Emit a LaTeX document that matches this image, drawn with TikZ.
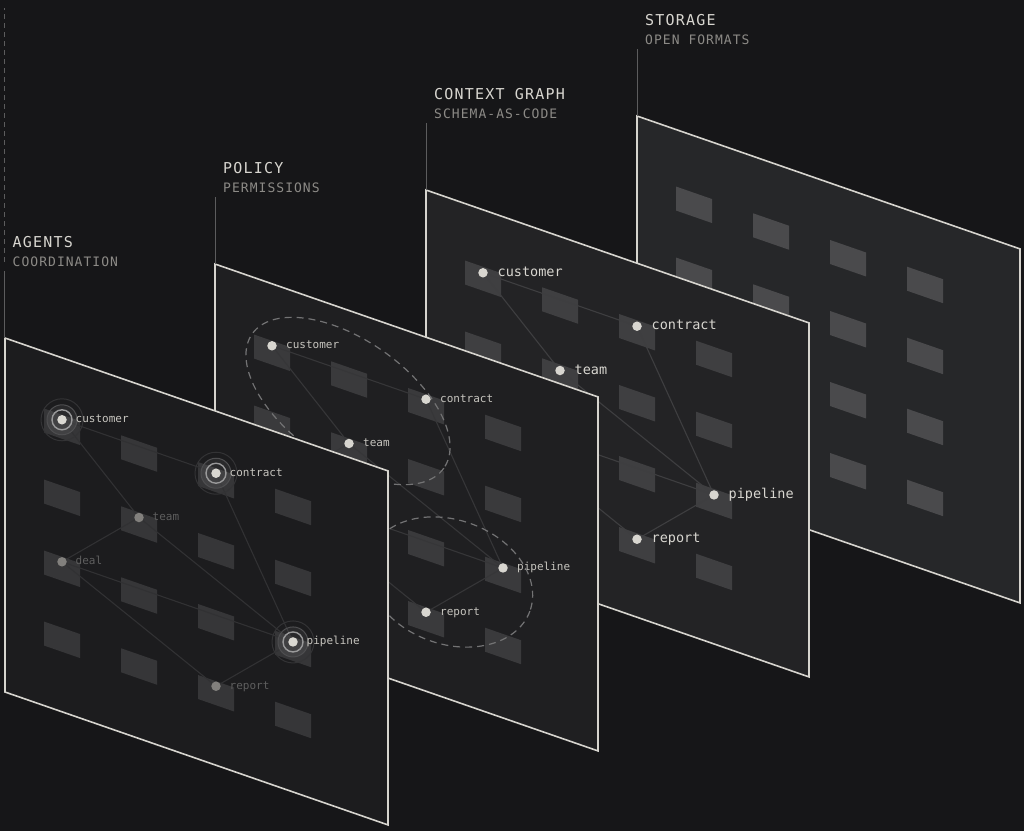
\documentclass[tikz,border=0pt]{standalone}
\usepackage{fontspec}
\setmonofont{DejaVu Sans Mono}
\usetikzlibrary{positioning}
\definecolor{backdrop}{HTML}{161618}
\definecolor{rim}{HTML}{D6D4CE}
\definecolor{sfill}{HTML}{262729}
\definecolor{cfill}{HTML}{232325}
\definecolor{pfill}{HTML}{1F1F21}
\definecolor{afill}{HTML}{1C1C1E}
\definecolor{stile}{HTML}{4A4A4C}
\definecolor{ctile}{HTML}{3F3F41}
\definecolor{ptile}{HTML}{3A3A3C}
\definecolor{atile}{HTML}{363638}
\definecolor{cwire}{HTML}{3E3E40}
\definecolor{pwire}{HTML}{363638}
\definecolor{awire}{HTML}{313133}
\definecolor{inkhi}{HTML}{D8D6D0}
\definecolor{inklo}{HTML}{8C8A86}
\definecolor{inkdim}{HTML}{5E5E5E}
\newcommand{\layerframe}[1]{\filldraw[frame,fill=#1] (0,0) -- (383,0) -- (383,354) -- (0,354) -- cycle;}
\newcommand{\tilegrid}[1]{\foreach \i in {0,...,3} \foreach \j in {0,...,3} {\fill[#1] ({39+77*\i},{57+71*\j}) -- ++(36,0) -- ++(0,24) -- ++(-36,0) -- cycle;}}
\newcommand{\graphedges}[2]{\foreach \src/\dst in {customer/contract,customer/team,contract/pipeline,team/deal,team/pipeline,deal/pipeline,deal/report,report/pipeline} {\draw[wire,draw=#2] (#1-\src) -- (#1-\dst);}}
\newcommand{\layertitle}[5]{\coordinate (#1-corner) at (#2,#3);
  \node[title] (#1-title) at ({#2+8},{#3-91}) {#4};
  \node[subtitle] (#1-sub) at ({#2+8},{#3-72}) {#5};
  \draw[tick] (#1-corner) -- ++(0,-67);}

\begin{document}
\begin{tikzpicture}[x=1pt,y=-1pt,
    frame/.style={draw=rim,line width=1.6pt,line join=miter},
    wire/.style={line width=1.1pt},
    dot/.style={circle,fill=inkhi,inner sep=0pt,minimum size=9.5pt},
    dimdot/.style={dot,fill=black!40!inkhi},
    lbl/.style={inner sep=0pt,text height=6pt,text depth=0pt,text=inkhi!92!black,
                font=\ttfamily\fontsize{11}{13}\selectfont},
    biglbl/.style={lbl,text height=7.4pt,text=inkhi,font=\ttfamily\fontsize{13.5}{15}\selectfont},
    dimlbl/.style={lbl,text=inkdim},
    title/.style={anchor=base west,inner sep=0pt,text=inkhi,
                  font=\ttfamily\fontsize{15}{17}\selectfont\addfontfeatures{LetterSpace=8}},
    subtitle/.style={anchor=base west,inner sep=0pt,text=inklo,
                  font=\ttfamily\fontsize{13}{15}\selectfont\addfontfeatures{LetterSpace=8}},
    tick/.style={draw=white!30!backdrop,line width=1pt},
    hull/.style={draw=white!40!backdrop,line width=1.2pt,dash pattern=on 7pt off 5pt},
    ring1/.style={draw=white!55!afill,line width=1.4pt},
    ring2/.style={draw=white!22!afill,line width=1pt,fill=white,fill opacity=0.06},
    ring3/.style={draw=white!10!afill,line width=1pt}
  ]
  \useasboundingbox (0,0) rectangle (1024,831);
  \fill[backdrop] (0,0) rectangle (1024,831);

  % storage
  \begin{scope}[cm={1,-0.347,0,1,(637pt,-116pt)}]
    \layerframe{sfill}
    \tilegrid{stile}
  \end{scope}
  \layertitle{s}{637}{116}{STORAGE}{OPEN FORMATS}

  % context graph
  \begin{scope}[cm={1,-0.347,0,1,(426pt,-190pt)}]
    \layerframe{cfill}
    \tilegrid{ctile}
    \node(c-customer)[dot] at (57,63){};
    \node(c-contract)[dot] at (211,63){};
    \node(c-team)[dot] at (134,134){};
    \coordinate(c-deal) at (57,205);
    \node(c-pipeline)[dot] at (288,205){};
    \node(c-report)[dot] at (211,276){};
  \end{scope}
  \graphedges{c}{cwire}
  \foreach \n in {customer,contract,team,pipeline,report}
    \node[biglbl,right=9.5pt of c-\n] (c-\n-text) {\n};
  \layertitle{c}{426}{190}{CONTEXT GRAPH}{SCHEMA-AS-CODE}

  % policy
  \begin{scope}[cm={1,-0.347,0,1,(215pt,-264pt)}]
    \layerframe{pfill}
    \tilegrid{ptile}
    \node(p-customer)[dot] at (57,62){};
    \node(p-contract)[dot] at (211,62){};
    \node(p-team)[dot] at (134,133){};
    \coordinate(p-deal) at (57,204);
    \node(p-pipeline)[dot] at (288,204){};
    \node(p-report)[dot] at (211,275){};
  \end{scope}
  \graphedges{p}{pwire}
  \foreach \n in {customer,contract,team,pipeline,report}
    \node[lbl,right=9pt of p-\n] (p-\n-text) {\n};
  \draw[hull,rotate around={-35:(348,401)}] (348,401) ellipse [x radius=117,y radius=61];
  \draw[hull,rotate around={-20:(450,582)}] (450,582) ellipse [x radius=85,y radius=62];
  \layertitle{p}{215}{264}{POLICY}{PERMISSIONS}

  % agents
  \begin{scope}[cm={1,-0.347,0,1,(5pt,-338pt)}]
    \layerframe{afill}
    \tilegrid{atile}
    \node(a-customer)[dot] at (57,62){};
    \node(a-contract)[dot] at (211,62){};
    \node(a-team)[dimdot] at (134,133){};
    \node(a-deal)[dimdot] at (57,204){};
    \node(a-pipeline)[dot] at (288,204){};
    \node(a-report)[dimdot] at (211,275){};
  \end{scope}
  \graphedges{a}{awire}
  \foreach \n in {customer,contract,pipeline} {
    \draw[ring3] (a-\n) circle (21pt);
    \draw[ring2] (a-\n) circle (15pt);
    \draw[ring1] (a-\n) circle (10pt);
    \node[lbl,right=8.5pt of a-\n] (a-\n-text) {\n};
  }
  \foreach \n in {team,deal,report}
    \node[dimlbl,right=8.5pt of a-\n] (a-\n-text) {\n};
  \layertitle{a}{4.5}{338}{AGENTS}{COORDINATION}
  \draw[tick,dash pattern=on 5pt off 4pt] (a-corner) ++(0,-76) -- ++(0,-254);
\end{tikzpicture}
\end{document}
